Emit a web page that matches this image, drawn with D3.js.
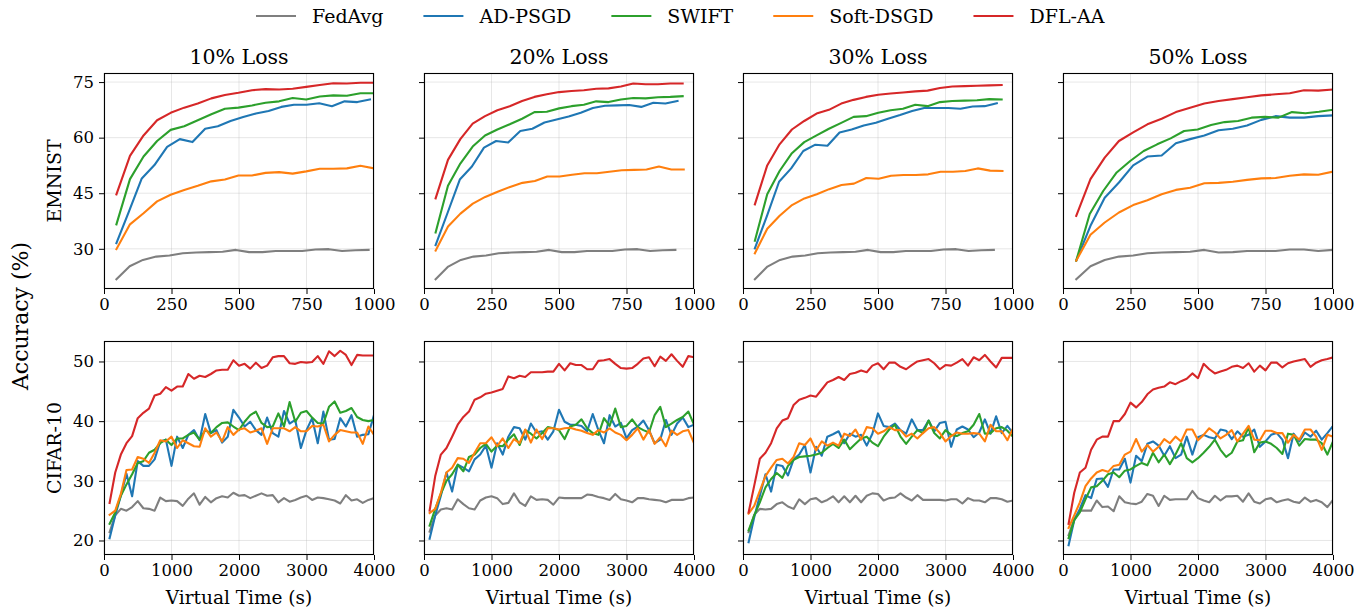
<!DOCTYPE html>
<html>
<head>
<meta charset="utf-8">
<script src="https://cdn.jsdelivr.net/npm/d3@7"></script>
<style>
  body { margin: 0; background: #fff; }
  svg { font-family: "DejaVu Serif", serif; }
  .tick line { stroke: #000; }
  .domain { display: none; }
</style>
</head>
<body>
<div id="chart"></div>
<script>
var methods = ["FedAvg", "AD-PSGD", "SWIFT", "Soft-DSGD", "DFL-AA"];
var colors = ["#7f7f7f", "#1f77b4", "#2ca02c", "#ff7f0e", "#d62728"];
var lossLabels = ["10% Loss", "20% Loss", "30% Loss", "50% Loss"];
var rowNames = ["EMNIST", "CIFAR-10"];
var emnistXTicks = [0, 250, 500, 750, 1000];
var cifarXTicks = [0, 1000, 2000, 3000, 4000];
var emnistYTicks = [30, 45, 60, 75];
var cifarYTicks = [20, 30, 40, 50];

// EMNIST accuracy, series order = methods; spans are [first, last] virtual time
var emnist10 = [
  [21.8,25.3,27.0,27.9,28.2,28.8,29.0,29.1,29.2,29.7,29.1,29.1,29.4,29.4,29.4,29.8,29.9,29.4,29.6,29.7],
  [31.5,40.2,49.0,52.6,57.5,59.6,58.8,62.4,63.1,64.5,65.6,66.5,67.2,68.3,68.9,68.9,69.3,68.5,69.8,69.6,70.3],
  [36.6,48.8,54.9,59.1,62.1,63.1,64.7,66.3,67.8,68.1,68.7,69.4,69.8,70.7,70.3,71.1,71.4,71.3,72.0,72.0],
  [29.9,36.6,39.6,42.8,44.6,45.9,47.0,48.2,48.7,49.8,49.8,50.5,50.7,50.3,50.9,51.6,51.6,51.7,52.4,51.7],
  [44.7,55.1,60.6,64.7,66.7,68.1,69.2,70.6,71.5,72.1,72.8,73.1,73.0,73.2,73.7,74.2,74.7,74.6,74.8,74.8]
];
var emnist10Span = [[46, 980], [46, 985], [46, 1000], [46, 1000], [46, 1000]];

var emnist20 = [
  [21.8,25.2,27.0,27.9,28.2,28.8,29.0,29.1,29.2,29.7,29.1,29.1,29.4,29.4,29.4,29.8,29.9,29.4,29.6,29.7],
  [31.0,39.8,48.7,52.2,57.3,59.1,58.7,61.8,62.4,64.1,64.9,65.7,66.7,68.0,68.6,68.7,68.8,68.3,69.4,69.2,69.9],
  [34.4,47.0,53.0,57.6,60.6,62.2,63.6,65.1,66.9,67.0,67.9,68.5,68.9,69.8,69.6,70.3,70.7,70.6,70.9,71.0,71.2],
  [29.5,36.0,39.5,42.2,44.0,45.4,46.7,47.8,48.3,49.5,49.5,50.0,50.4,50.4,50.8,51.2,51.3,51.4,52.2,51.4,51.4],
  [43.6,54.0,59.6,63.8,65.8,67.4,68.5,69.9,71.0,71.7,72.3,72.6,72.8,73.2,73.3,73.8,74.6,74.4,74.4,74.6,74.6]
];
var emnist20Span = [[43, 931], [43, 939], [43, 958], [43, 962], [43, 958]];

var emnist30 = [
  [21.8,25.2,27.0,27.9,28.2,28.8,29.0,29.1,29.2,29.7,29.1,29.1,29.4,29.4,29.4,29.8,29.9,29.4,29.6,29.7],
  [30.1,38.9,48.1,51.7,56.4,58.1,57.8,61.4,62.2,63.3,64.0,65.1,66.1,67.2,68.0,68.0,68.0,67.8,68.4,68.5,69.3],
  [32.2,44.7,51.0,55.8,58.8,60.6,62.4,64.0,65.6,65.8,66.7,67.4,67.8,68.9,68.5,69.6,69.9,70.0,70.1,70.4,70.3],
  [28.8,35.4,38.9,41.8,43.6,44.7,46.1,47.2,47.6,49.1,48.9,49.7,49.9,49.9,50.1,50.8,50.8,51.0,51.7,51.1,51.0],
  [42.0,52.5,58.2,62.2,64.5,66.5,67.5,69.2,70.2,71.0,71.6,71.9,72.2,72.5,72.7,73.4,73.8,73.9,74.0,74.1,74.2]
];
var emnist30Span = [[44, 929], [44, 940], [44, 958], [44, 961], [44, 958]];

var emnist50 = [
  [21.8,25.3,27.0,27.9,28.2,28.8,29.0,29.1,29.2,29.7,29.0,29.1,29.4,29.4,29.4,29.8,29.8,29.4,29.7],
  [26.8,36.2,43.8,47.9,52.5,54.9,55.2,58.5,59.6,60.6,62.0,62.4,63.3,64.8,65.8,65.4,65.4,65.8,66.0],
  [26.8,39.4,45.6,50.6,53.7,56.4,58.2,59.8,61.8,62.2,63.4,64.2,64.5,65.4,65.6,65.4,66.9,66.6,67.0,67.5],
  [26.8,33.8,37.1,39.8,41.8,43.1,44.7,45.9,46.5,47.7,47.8,48.1,48.6,49.0,49.1,49.7,50.1,50.0,50.8],
  [38.9,48.8,54.6,59.1,61.4,63.6,65.1,66.9,68.1,69.2,69.9,70.4,70.9,71.4,71.7,72.0,72.8,72.7,73.0]
];
var emnist50Span = [[49, 998], [49, 998], [49, 998], [49, 998], [49, 998]];

// CIFAR-10 accuracy, 48 evaluations each
var cifar10 = [
  [21.4,24.2,25.3,25.0,25.6,26.6,25.4,25.3,25.0,27.2,26.6,26.7,26.6,25.8,27.0,27.9,26.0,27.3,26.4,27.1,27.4,27.2,28.0,27.5,27.6,27.1,27.5,27.9,27.5,27.6,26.4,27.1,26.5,26.8,27.2,27.5,26.8,27.2,27.1,26.9,26.7,26.2,27.6,26.7,26.9,26.3,26.8,27.1],
  [20.4,24.2,27.5,31.2,27.4,33.3,32.5,32.5,33.6,36.6,36.9,32.5,37.4,35.5,37.7,38.5,36.8,41.2,38.0,38.5,36.4,37.4,41.9,40.6,39.1,39.9,38.5,37.7,40.6,38.0,37.4,41.7,39.6,40.2,35.5,38.5,40.5,36.3,41.6,36.9,37.0,40.5,39.1,41.0,37.4,37.7,37.8,41.0],
  [22.8,24.7,27.5,29.4,31.1,33.0,33.3,34.7,35.2,36.3,36.9,36.0,37.1,37.1,37.7,38.1,36.9,38.5,38.0,39.0,39.7,39.8,39.1,38.5,39.9,41.0,41.6,39.7,39.0,39.1,41.3,39.1,43.2,39.9,41.4,41.7,40.6,39.7,39.6,42.4,43.3,41.4,41.7,42.2,40.7,40.2,40.0,40.2],
  [24.3,25.0,27.8,31.8,31.9,34.0,33.7,33.0,34.7,36.8,36.6,37.4,35.5,36.8,36.3,35.8,35.7,38.8,37.4,38.1,36.6,39.0,37.7,38.6,38.8,38.1,38.4,38.8,36.2,38.8,38.8,38.8,38.3,39.0,38.3,38.3,39.2,39.1,39.4,36.6,37.7,38.5,38.3,38.1,38.1,36.2,39.1,37.7],
  [26.3,31.4,34.4,36.3,37.5,40.5,41.4,42.1,44.3,44.6,45.7,45.1,45.8,45.8,47.9,47.1,47.6,47.4,47.9,48.5,48.6,48.6,50.2,49.3,49.6,48.8,49.8,48.9,49.3,50.7,50.9,50.9,49.7,49.6,49.9,49.8,49.9,50.9,49.6,51.7,50.9,51.8,51.1,49.4,51.1,51.0,51.0,51.0]
];
var cifar20 = [
  [21.5,24.2,25.2,25.4,25.2,26.9,26.1,25.4,25.2,26.7,27.2,27.4,27.1,26.1,26.3,27.9,26.4,25.8,27.4,26.8,26.9,26.8,26.0,27.2,27.1,27.1,27.1,27.1,27.7,27.6,27.3,27.1,26.8,27.8,26.9,26.7,26.4,27.1,27.1,26.9,26.8,26.7,26.4,26.8,26.8,26.8,27.1,27.2],
  [20.3,24.2,27.5,31.4,28.2,32.7,32.2,31.6,33.6,34.4,35.9,32.2,36.3,34.4,37.4,39.0,38.8,36.9,39.6,38.1,38.3,36.9,38.3,41.9,39.9,39.4,39.4,39.2,38.3,41.2,38.5,36.3,41.0,39.1,39.7,37.1,38.5,39.1,40.1,38.5,36.3,36.9,40.2,37.7,39.6,40.6,39.0,39.4],
  [22.5,25.3,27.8,30.0,31.1,32.7,31.6,34.0,34.4,35.5,36.2,34.9,35.9,35.8,36.9,37.8,36.0,38.5,37.9,37.1,38.0,39.0,38.8,38.5,37.0,39.1,39.4,40.3,38.8,38.0,37.7,40.5,39.2,42.1,39.0,39.2,40.3,39.0,38.5,38.1,41.0,42.4,39.0,39.6,40.2,40.7,41.6,39.4],
  [24.6,25.3,28.0,31.4,32.2,33.8,33.7,33.0,34.7,36.3,36.3,37.3,35.8,37.1,35.5,37.0,36.3,38.6,36.4,38.6,37.0,38.8,38.8,38.6,38.8,38.9,38.6,38.4,38.0,37.7,38.5,38.1,38.8,38.1,37.7,36.8,37.7,38.8,36.9,38.5,36.2,37.3,35.8,38.4,37.7,38.3,38.5,36.3],
  [25.0,30.8,34.4,35.5,37.4,39.4,40.7,41.6,43.6,44.0,44.6,44.8,45.1,45.4,47.5,47.2,47.6,47.4,48.2,48.2,48.2,48.3,48.3,49.6,48.5,49.7,49.4,49.4,48.7,48.7,50.1,50.2,50.4,49.6,48.9,48.8,48.9,49.6,50.5,50.7,49.2,50.8,50.1,51.2,50.1,49.1,50.9,50.7]
];
var cifar30 = [
  [21.4,24.3,25.3,25.2,25.3,26.1,26.4,25.7,25.3,26.9,26.1,26.9,27.1,26.4,26.8,27.4,26.4,27.4,26.4,27.5,26.4,27.5,27.9,27.8,26.7,27.1,27.2,27.9,27.2,26.7,27.6,26.8,26.8,26.8,26.8,26.7,26.9,26.9,26.2,27.1,26.7,26.7,26.4,27.1,27.1,26.9,26.5,26.7],
  [19.7,23.9,27.5,31.1,28.2,32.7,32.5,30.9,33.6,34.4,36.0,31.4,35.7,34.2,37.4,37.8,38.3,36.3,37.9,37.4,37.7,35.9,37.9,41.3,39.2,39.0,39.6,38.5,37.9,40.3,38.5,38.5,40.1,38.3,39.7,39.9,35.7,38.6,39.1,38.6,37.3,38.1,40.3,37.9,40.8,38.0,39.2,38.0],
  [21.7,24.2,26.4,28.9,30.3,31.3,30.5,32.5,33.5,34.0,34.1,34.2,34.4,34.7,35.5,36.2,35.5,36.9,35.3,36.2,37.1,37.4,36.4,35.8,37.4,38.6,39.4,37.4,36.2,37.4,38.5,38.0,40.1,38.0,37.1,38.5,37.7,37.5,38.0,38.3,39.4,41.2,37.9,38.0,38.8,39.0,38.4,37.4],
  [24.5,25.8,28.3,30.8,32.2,33.5,33.7,32.9,34.0,36.3,36.0,37.1,35.1,36.6,35.9,36.4,35.9,37.9,37.5,38.6,36.9,39.0,38.8,37.9,38.3,39.0,38.5,38.5,37.4,37.9,37.1,38.0,38.8,39.0,38.0,36.6,37.5,38.1,37.9,37.9,38.0,37.9,36.6,39.4,38.3,38.3,36.8,38.8],
  [24.7,29.2,33.7,34.7,36.3,38.8,40.1,40.5,42.7,43.6,43.9,44.3,44.1,45.3,46.5,46.9,47.4,46.9,47.9,48.1,48.5,48.2,49.3,49.7,48.7,49.8,49.8,49.1,48.7,49.4,50.0,50.2,50.4,49.7,48.7,49.4,49.3,49.8,50.4,49.3,50.7,50.2,51.1,50.0,49.0,50.6,50.6,50.6]
];
var cifar50 = [
  [20.9,23.6,25.0,25.0,25.0,26.7,25.6,25.7,24.9,27.4,26.4,26.2,26.1,26.5,27.8,27.5,25.8,27.5,26.8,26.9,26.9,26.9,28.3,27.1,26.7,26.4,27.5,26.7,27.4,27.4,27.5,26.5,27.9,26.5,26.2,26.9,27.1,26.4,26.7,26.9,26.5,26.3,27.2,26.5,26.8,26.4,25.6,26.8],
  [19.2,23.4,25.3,27.6,27.1,30.3,30.4,29.0,31.9,31.9,33.7,29.7,34.2,33.3,36.2,36.6,35.9,34.2,35.8,33.8,34.4,37.4,34.4,37.3,37.7,37.3,37.1,38.6,38.4,37.0,38.3,37.4,37.7,38.6,35.7,36.6,37.7,38.0,36.9,33.8,37.9,36.6,38.1,37.4,38.4,36.9,38.0,39.2],
  [20.4,23.4,24.7,26.9,28.9,29.1,30.0,31.1,31.4,30.6,31.7,31.9,32.5,33.0,32.6,34.7,33.1,34.4,32.8,34.4,36.3,33.8,33.1,33.8,34.7,35.7,36.9,35.2,34.0,34.7,36.6,36.8,39.0,34.8,36.4,36.6,36.2,35.5,34.5,37.9,37.7,35.9,37.0,36.9,36.9,36.3,34.4,36.6],
  [22.1,24.2,26.4,29.1,30.4,31.4,31.8,31.5,32.5,32.7,34.4,34.9,37.0,34.9,36.0,34.9,35.7,37.0,36.3,37.4,36.6,38.6,38.6,36.8,37.7,38.8,38.1,37.1,37.7,38.5,36.6,37.9,39.2,36.9,36.8,38.4,38.4,38.0,38.0,36.4,37.7,36.9,38.6,38.6,37.4,35.2,37.7,37.4],
  [22.8,28.0,31.4,32.2,35.2,36.9,37.4,37.4,40.0,40.0,41.2,43.1,42.3,43.2,44.5,45.3,45.6,45.8,46.5,46.2,46.7,47.1,48.0,47.2,49.6,48.7,48.0,48.3,48.6,49.1,49.3,48.9,49.7,48.3,49.3,48.5,49.8,49.8,49.0,49.7,50.0,50.2,50.4,49.1,49.8,50.2,50.4,50.7]
];
var cifarSpan = [83, 4000];

var rows = [
  { panels: [emnist10, emnist20, emnist30, emnist50],
    spans: [emnist10Span, emnist20Span, emnist30Span, emnist50Span],
    xmax: 1000, xticks: emnistXTicks, yticks: emnistYTicks },
  { panels: [cifar10, cifar20, cifar30, cifar50],
    spans: null, xmax: 4000, xticks: cifarXTicks, yticks: cifarYTicks }
];

var W = 1372, H = 611;
var colLeft = [104, 424, 743, 1063];
var pw = 270;
var rowTop = [73, 341];
var ph = [216, 214];

var svg = d3.select("#chart").append("svg")
  .attr("width", W).attr("height", H);

function toPoints(vals, span) {
  var n = vals.length;
  return vals.map(function (v, i) {
    return [span[0] + (span[1] - span[0]) * i / (n - 1), v];
  });
}

rows.forEach(function (row, r) {
  // shared y range per row, matplotlib-style 5% margin
  var all = d3.merge(row.panels.map(function (p) { return d3.merge(p); }));
  var lo = d3.min(all), hi = d3.max(all), m = (hi - lo) * 0.05;
  var y = d3.scaleLinear().domain([lo - m, hi + m]).range([rowTop[r] + ph[r], rowTop[r]]);

  row.panels.forEach(function (panel, c) {
    var x = d3.scaleLinear().domain([0, row.xmax]).range([colLeft[c], colLeft[c] + pw]);
    var g = svg.append("g");

    // grid
    g.selectAll(".gx").data(row.xticks).enter().append("line")
      .attr("x1", function (d) { return x(d); }).attr("x2", function (d) { return x(d); })
      .attr("y1", rowTop[r]).attr("y2", rowTop[r] + ph[r])
      .attr("stroke", "#b0b0b0").attr("stroke-opacity", 0.3).attr("stroke-width", 1);
    g.selectAll(".gy").data(row.yticks).enter().append("line")
      .attr("x1", colLeft[c]).attr("x2", colLeft[c] + pw)
      .attr("y1", function (d) { return y(d); }).attr("y2", function (d) { return y(d); })
      .attr("stroke", "#b0b0b0").attr("stroke-opacity", 0.3).attr("stroke-width", 1);

    var clip = "clip" + r + c;
    svg.append("clipPath").attr("id", clip).append("rect")
      .attr("x", colLeft[c]).attr("y", rowTop[r]).attr("width", pw).attr("height", ph[r]);

    var line = d3.line().x(function (d) { return x(d[0]); }).y(function (d) { return y(d[1]); });
    panel.forEach(function (vals, s) {
      var span = row.spans ? row.spans[c][s] : cifarSpan;
      g.append("path")
        .attr("d", line(toPoints(vals, span)))
        .attr("fill", "none")
        .attr("stroke", colors[s])
        .attr("stroke-width", 2.1)
        .attr("stroke-linejoin", "round")
        .attr("stroke-linecap", "square")
        .attr("clip-path", "url(#" + clip + ")");
    });

    // frame
    g.append("rect")
      .attr("x", colLeft[c] + 0.5).attr("y", rowTop[r] + 0.5)
      .attr("width", pw - 1).attr("height", ph[r] - 1)
      .attr("fill", "none").attr("stroke", "#000").attr("stroke-width", 1.1);

    var xa = d3.axisBottom(x).tickValues(row.xticks).tickSize(5).tickPadding(4)
      .tickFormat(d3.format("d"));
    g.append("g").attr("transform", "translate(0," + (rowTop[r] + ph[r]) + ")")
      .call(xa).attr("font-size", 16.5).attr("font-family", null);

    var ya = d3.axisLeft(y).tickValues(row.yticks).tickSize(5).tickPadding(5);
    if (c > 0) ya.tickFormat("");
    g.append("g").attr("transform", "translate(" + colLeft[c] + ",0)")
      .call(ya).attr("font-size", 16.5).attr("font-family", null);

    if (r === 0) {
      g.append("text").attr("x", colLeft[c] + pw / 2).attr("y", 64)
        .attr("text-anchor", "middle").attr("font-size", 20.5).text(lossLabels[c]);
    } else {
      g.append("text").attr("x", colLeft[c] + pw / 2).attr("y", 604)
        .attr("text-anchor", "middle").attr("font-size", 18.5).text("Virtual Time (s)");
    }
  });

  svg.append("text")
    .attr("transform", "translate(61," + (rowTop[r] + ph[r] / 2) + ") rotate(-90)")
    .attr("text-anchor", "middle").attr("font-size", 19).text(rowNames[r]);
});

svg.append("text")
  .attr("transform", "translate(28,316) rotate(-90)")
  .attr("text-anchor", "middle").attr("font-size", 22).text("Accuracy (%)");

// legend
var legend = svg.append("g");
var lx = 256;
methods.forEach(function (name, i) {
  legend.append("line").attr("x1", lx).attr("x2", lx + 40)
    .attr("y1", 16).attr("y2", 16)
    .attr("stroke", colors[i]).attr("stroke-width", 2.1);
  var t = legend.append("text").attr("x", lx + 56).attr("y", 23)
    .attr("font-size", 19).text(name);
  lx += 56 + t.node().getComputedTextLength() + 40;
});
</script>
</body>
</html>
